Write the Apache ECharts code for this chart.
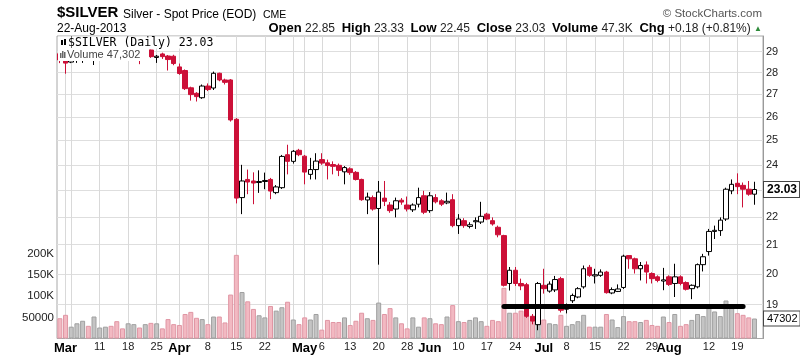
<!DOCTYPE html>
<html><head><meta charset="utf-8">
<script src="https://cdn.jsdelivr.net/npm/echarts@6/dist/echarts.min.js"></script>
<style>html,body{margin:0;padding:0;background:#fff}#c{width:800px;height:359px}</style>
</head><body><div id="c"></div>
<script>
// ---------- DATA ----------
const dates = ['2/28','3/1','3/4','3/5','3/6','3/7','3/8','3/11','3/12','3/13','3/14','3/15','3/18','3/19','3/20','3/21','3/22','3/25','3/26','3/27','3/28',
'4/1','4/2','4/3','4/4','4/5','4/8','4/9','4/10','4/11','4/12','4/15','4/16','4/17','4/18','4/19','4/22','4/23','4/24','4/25','4/26','4/29','4/30',
'5/1','5/2','5/3','5/6','5/7','5/8','5/9','5/10','5/13','5/14','5/15','5/16','5/17','5/20','5/21','5/22','5/23','5/24','5/28','5/29','5/30','5/31',
'6/3','6/4','6/5','6/6','6/7','6/10','6/11','6/12','6/13','6/14','6/17','6/18','6/19','6/20','6/21','6/24','6/25','6/26','6/27','6/28',
'7/1','7/2','7/3','7/5','7/8','7/9','7/10','7/11','7/12','7/15','7/16','7/17','7/18','7/19','7/22','7/23','7/24','7/25','7/26','7/29','7/30','7/31',
'8/1','8/2','8/5','8/6','8/7','8/8','8/9','8/12','8/13','8/14','8/15','8/16','8/19','8/20','8/21','8/22'];

const open = [
28.90,28.62,28.50,28.70,28.85,28.95,28.75,28.85,28.95,29.05,
28.85,28.75,28.70,28.85,29.00,28.80,29.08,28.72,28.89,28.79,
28.78,28.27,28.10,27.30,27.05,26.85,27.38,27.29,27.97,27.66,
27.66,25.90,22.72,23.42,23.36,23.30,23.34,23.42,22.91,23.10,
24.41,24.14,24.59,24.35,23.62,23.81,24.21,24.08,24.01,23.98,
23.72,23.84,23.70,23.42,22.63,22.72,22.31,22.70,22.44,22.29,
22.62,22.44,22.26,22.47,22.79,22.23,22.72,22.60,22.52,22.64,
21.68,21.86,21.65,21.82,21.81,22.10,21.86,21.62,21.32,19.68,
20.12,19.68,19.64,18.63,18.37,19.62,19.43,19.47,19.84,18.85,
19.12,19.24,19.57,20.22,19.93,19.95,20.06,19.37,19.42,19.55,
20.62,20.51,20.17,20.30,20.01,19.90,19.76,19.90,19.68,19.90,
19.71,19.51,19.57,20.31,20.76,21.47,21.50,21.92,22.98,23.27,
23.19,23.04,22.85];

const high = [
29.05,28.80,28.85,29.00,29.05,29.05,29.00,29.10,29.20,29.10,
29.00,28.90,29.00,29.10,29.10,29.05,29.10,28.84,28.95,28.84,
28.85,28.43,28.15,27.35,27.10,27.45,27.50,28.05,28.00,27.72,
27.70,25.95,24.00,23.81,23.70,23.78,23.69,23.48,23.20,24.40,
24.82,24.60,24.65,24.40,24.28,24.47,24.47,24.21,24.14,24.05,
23.95,23.90,23.75,23.45,22.91,22.80,23.36,23.36,22.55,22.72,
22.70,22.76,22.50,23.10,22.98,22.93,22.85,22.66,22.91,22.85,
22.10,21.95,21.80,21.98,22.56,22.15,21.98,21.68,21.35,20.23,
20.23,19.84,19.70,18.70,19.73,20.17,19.75,19.93,19.90,19.03,
19.35,19.56,20.28,20.30,20.17,20.15,20.10,19.55,19.65,20.65,
20.62,20.55,20.40,20.42,20.05,19.95,20.20,19.95,20.34,19.95,
19.75,19.65,20.35,20.68,21.56,21.68,21.98,23.10,23.42,23.66,
23.30,23.36,23.33];

const low = [
28.45,27.95,28.45,28.46,28.46,28.65,28.36,28.70,28.80,28.70,
28.65,28.62,28.65,28.70,28.40,28.65,28.70,28.46,28.65,28.10,
28.35,27.90,27.20,26.72,26.68,26.80,27.15,27.20,27.60,27.45,
25.80,22.50,22.10,22.85,22.47,22.90,23.04,22.66,22.85,23.05,
23.62,24.05,24.35,23.23,23.42,23.42,24.00,23.42,23.62,23.55,
23.23,23.60,23.38,22.60,22.10,22.23,20.31,22.40,22.15,21.98,
22.45,22.20,22.18,22.35,22.10,22.15,22.50,22.40,22.47,21.62,
21.38,21.60,21.58,21.56,21.74,21.88,21.68,21.26,19.58,19.45,
19.60,19.46,18.58,18.38,18.20,19.35,19.38,19.40,18.75,18.72,
19.05,19.20,19.51,19.90,19.68,19.90,19.35,19.33,19.40,19.50,
20.17,20.01,19.78,19.68,19.68,19.72,19.46,19.60,19.24,19.62,
19.45,19.17,19.52,20.08,20.62,21.20,21.31,21.85,22.85,22.85,
22.35,22.79,22.45];

const close = [
28.60,28.45,28.70,28.90,28.95,28.80,28.85,28.95,29.05,28.85,
28.75,28.70,28.85,29.00,28.80,28.95,28.76,28.78,28.76,28.62,
28.43,27.96,27.26,26.99,26.90,27.38,27.22,27.97,27.66,27.55,
25.87,22.70,23.36,23.32,23.28,23.34,23.38,22.97,23.13,24.34,
24.14,24.55,24.41,23.71,23.81,24.15,24.07,23.97,23.94,23.78,
23.89,23.69,23.42,22.64,22.74,22.29,22.93,22.58,22.23,22.60,
22.55,22.29,22.44,22.72,22.17,22.79,22.56,22.47,22.58,21.68,
21.92,21.68,21.71,21.86,22.02,21.92,21.74,21.35,19.62,20.12,
19.68,19.60,18.63,18.48,19.68,19.51,19.66,19.81,18.82,18.90,
19.29,19.51,20.17,19.95,19.97,20.06,19.38,19.48,19.50,20.60,
20.51,20.17,20.28,20.06,19.84,19.78,19.80,19.65,19.90,19.68,
19.49,19.62,20.31,20.58,21.47,21.51,21.88,23.04,23.23,23.14,
23.04,22.85,23.03];

const volume = [
48000,56000,28000,36000,42000,30000,52000,26000,28000,30000,
41000,24000,36000,34000,26000,34000,37000,36000,24000,46000,
34000,32000,58000,63000,49000,46000,34000,52000,52000,38000,
104000,198000,110000,88000,70000,55000,50000,77000,66000,74000,
87000,45000,34000,50000,45000,58000,21000,44000,39000,39000,
50000,32000,42000,61000,48000,44000,85000,58000,72000,50000,
36000,24000,50000,28000,50000,48000,36000,34000,52000,79000,
41000,39000,44000,50000,41000,30000,44000,41000,120000,61000,
61000,66000,55000,44000,36000,45000,36000,34000,56000,30000,
34000,41000,56000,28000,28000,28000,58000,45000,27000,53000,
41000,41000,39000,44000,32000,30000,52000,39000,58000,30000,
34000,44000,58000,53000,72000,64000,53000,90000,75000,60000,
56000,50000,47302];

const priceTicks = [19,20,21,22,23,24,25,26,27,28,29];
const xTickDates = ['3/1','3/11','3/18','3/25','4/1','4/8','4/15','4/22','5/1','5/6','5/13','5/20','5/28','6/3','6/10','6/17','6/24','7/1','7/8','7/15','7/22','7/29','8/1','8/12','8/19'];
const xTickTexts = ['Mar','11','18','25','Apr','8','15','22','May','6','13','20','28','Jun','10','17','24','Jul','8','15','22','29','Aug','12','19'];
const monthNames = ['Mar','Apr','May','Jun','Jul','Aug'];
const xGridDates = xTickDates.concat(['3/4','4/29','8/5']);
const supportFrom = '6/20', supportTo = '8/20', supportPrice = 18.96;

// ---------- BUILD ----------
const FONT = '"Liberation Sans", Arial, sans-serif';
const RED = '#cc1038';
const categories = dates.concat(['']);
const tickMap = {};
xTickDates.forEach((d, i) => tickMap[d] = xTickTexts[i]);

const candleData = open.map((o, i) => {
  const c = close[i];
  const prev = i > 0 ? close[i - 1] : o;
  const up = c >= prev;
  const col = up ? '#000' : RED;
  const fill = c >= o ? '#fff' : col;
  return {value: [o, c, low[i], high[i]],
    itemStyle: {color: fill, color0: fill, borderColor: col, borderColor0: col, borderWidth: 1}};
});
const volData = volume.map((v, i) => {
  const prev = i > 0 ? close[i - 1] : open[i];
  const up = close[i] >= prev;
  return {value: v, itemStyle: up ? {color: '#c4c4c4', borderColor: '#a0a0a0', borderWidth: 1}
                                   : {color: '#f2b9c2', borderColor: '#e096a4', borderWidth: 1}};
});
const n = close.length;
const hiddenLine = {color: 'rgba(0,0,0,0)', width: 0};
const boxLabel = {show: true, position: 'end', color: '#000', fontFamily: FONT, backgroundColor: '#fff',
                  borderColor: '#444', borderWidth: 1, padding: [2, 2, 1, 3], distance: 1};

const chart = echarts.init(document.getElementById('c'), null, {renderer: 'canvas'});
chart.setOption({
  animation: false,
  textStyle: {fontFamily: FONT},
  grid: {left: 57, right: 37, top: 36, bottom: 20.5, show: true, borderColor: '#a8a8a8', borderWidth: 1},
  xAxis: {
    type: 'category', data: categories, boundaryGap: true,
    axisLine: {show: false}, axisTick: {show: false}, splitLine: {show: false},
    axisLabel: {
      interval: (i, v) => tickMap[v] !== undefined,
      formatter: v => { const t = tickMap[v]; if (!t) return ''; return monthNames.includes(t) ? '{m|' + t + '}' : '{d|' + t + '}'; },
      margin: 3,
      rich: {m: {fontWeight: 'bold', fontSize: 13, color: '#000', fontFamily: FONT},
             d: {fontSize: 11, color: '#222', fontFamily: FONT}}
    }
  },
  yAxis: [
    {type: 'log', position: 'right', min: 17.95, max: 29.77,
     axisLine: {show: true, lineStyle: {color: '#9a9a9a'}},
     axisTick: {show: false, customValues: priceTicks},
     axisLabel: {customValues: priceTicks, margin: 3, fontSize: 11, color: '#222', fontFamily: FONT,
                 formatter: v => String(Math.round(v))},
     splitLine: {show: true, lineStyle: {color: '#dedede', width: 1}}},
    {type: 'value', position: 'left', min: 0, max: 716000, interval: 50000,
     axisLine: {show: false}, axisTick: {show: false}, splitLine: {show: false},
     axisLabel: {margin: 3, fontSize: 11.5, color: '#222', fontFamily: FONT,
       formatter: v => v === 50000 ? '50000' : (v >= 100000 && v <= 200000 ? (v / 1000) + 'K' : '')}}
  ],
  series: [
    {type: 'line', data: [], silent: true,
     markLine: {z: 1, silent: true, symbol: ['none', 'none'], label: {show: false},
       lineStyle: {color: '#d9d9d9', width: 1, type: 'solid'},
       data: xGridDates.map(d => ({xAxis: d}))}},
    {type: 'bar', yAxisIndex: 1, z: 2, barWidth: 5, data: volData, silent: true,
     markLine: {z: 8, silent: true, symbol: ['none', 'none'], lineStyle: hiddenLine,
       label: Object.assign({}, boxLabel, {formatter: String(volume[n - 1]), fontSize: 11}),
       data: [{yAxis: volume[n - 1]}]}},
    {type: 'candlestick', z: 3, barWidth: 5, data: candleData, silent: true,
     markLine: {z: 8, silent: true, symbol: ['none', 'none'], lineStyle: hiddenLine,
       label: Object.assign({}, boxLabel, {formatter: close[n - 1].toFixed(2), fontSize: 12, fontWeight: 'bold'}),
       data: [{yAxis: close[n - 1]}]}},
    {type: 'line', data: [], silent: true,
     markLine: {z: 7, silent: true, symbol: ['none', 'none'], label: {show: false},
       lineStyle: {color: '#000', width: 5, type: 'solid', cap: 'round'},
       data: [[{coord: [supportFrom, supportPrice]}, {coord: [supportTo, supportPrice]}]]}}
  ],
  graphic: [
    {type: 'text', z: 100, style: {text: '$SILVER', x: 57, y: 13, font: 'bold 15px ' + FONT, fill: '#000', verticalAlign: 'middle'}},
    {type: 'text', z: 100, style: {text: 'Silver - Spot Price (EOD)', x: 123, y: 14.5, font: '12px ' + FONT, fill: '#000', verticalAlign: 'middle'}},
    {type: 'text', z: 100, style: {text: 'CME', x: 263, y: 15, font: '10.5px ' + FONT, fill: '#000', verticalAlign: 'middle'}},
    {type: 'text', z: 100, style: {text: '\u00A9 StockCharts.com', x: 762, y: 14, font: '11.5px ' + FONT, fill: '#555', align: 'right', verticalAlign: 'middle'}},
    {type: 'text', z: 100, style: {text: '22-Aug-2013', x: 57, y: 28.5, font: '12px ' + FONT, fill: '#000', verticalAlign: 'middle'}},
    {type: 'text', z: 100, style: {
      text: '{b|Open} {v|22.85}  {b|High} {v|23.33}  {b|Low} {v|22.45}  {b|Close} {v|23.03}  {b|Volume} {v|47.3K}  {b|Chg} {v|+0.18 (+0.81%)} {g|\u25B2}',
      x: 762, y: 28.5, align: 'right', verticalAlign: 'middle', font: '12px ' + FONT, fill: '#000',
      rich: {b: {font: 'bold 13px ' + FONT, fill: '#000'}, v: {font: '12px ' + FONT, fill: '#222'}, g: {font: '8px ' + FONT, fill: '#2e8b3a'}}}},
    {type: 'rect', z: 100, shape: {x: 58, y: 36.5, width: 158, height: 12}, style: {fill: '#fff'}},
    {type: 'rect', z: 100, shape: {x: 58, y: 48, width: 91, height: 13}, style: {fill: '#fff'}},
    {type: 'text', z: 101, style: {text: '$SILVER (Daily) 23.03', x: 68, y: 43, font: '11.5px "DejaVu Sans Mono", monospace', fill: '#000', verticalAlign: 'middle'}},
    {type: 'text', z: 101, style: {text: 'Volume 47,302', x: 67, y: 54.5, font: '11px ' + FONT, fill: '#444', verticalAlign: 'middle'}},
    {type: 'rect', z: 101, shape: {x: 60, y: 53, width: 1.5, height: 5}, style: {fill: '#666'}},
    {type: 'rect', z: 101, shape: {x: 62, y: 51, width: 1.5, height: 7}, style: {fill: '#666'}},
    {type: 'rect', z: 101, shape: {x: 64, y: 52, width: 1.5, height: 6}, style: {fill: '#666'}},
    {type: 'rect', z: 101, shape: {x: 61, y: 40, width: 2, height: 5}, style: {fill: '#000'}},
    {type: 'rect', z: 101, shape: {x: 64, y: 39, width: 2, height: 6}, style: {fill: '#000'}}
  ]
});
</script></body></html>
